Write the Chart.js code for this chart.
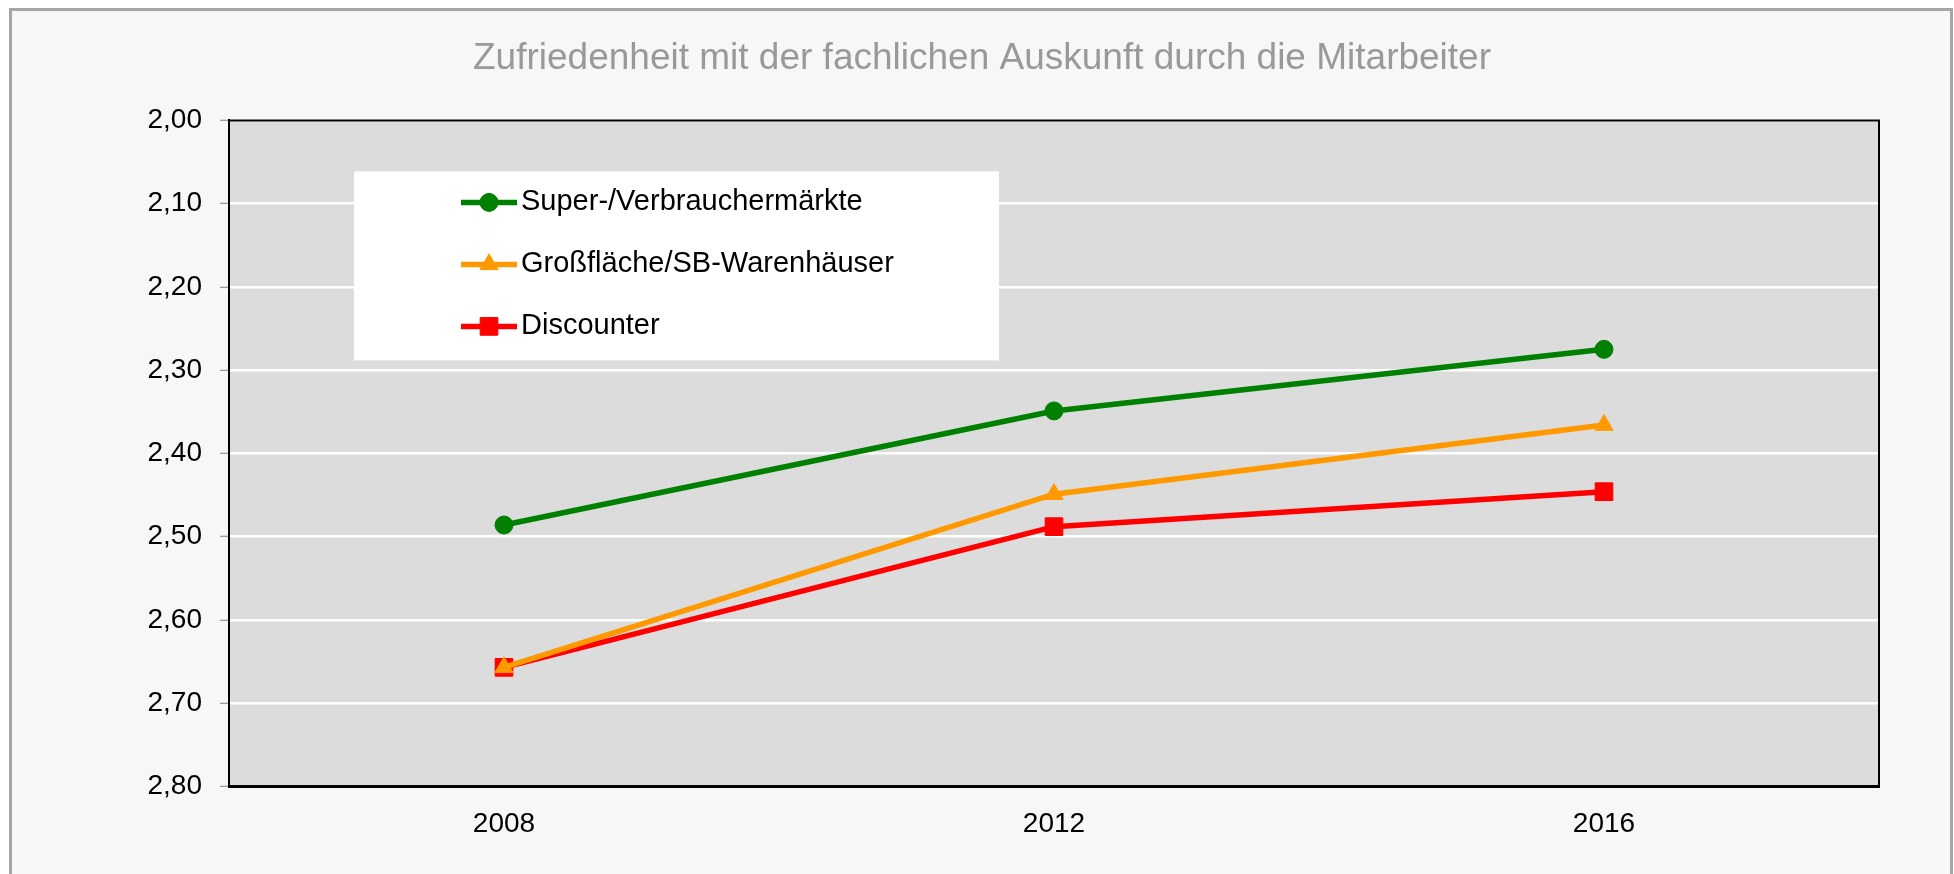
<!DOCTYPE html>
<html lang="de">
<head>
<meta charset="utf-8">
<title>Zufriedenheit mit der fachlichen Auskunft</title>
<script src="https://cdn.jsdelivr.net/npm/chart.js"></script>
<style>
    html, body { margin: 0; padding: 0; background: #ffffff; }
    #wrap { width: 1954px; height: 874px; }
</style>
</head>
<body>
<div id="wrap"><canvas id="chart" width="1954" height="874"></canvas></div>
<script>
// Data
const years = ['2008', '2012', '2016'];
const superMaerkte = [2.486, 2.349, 2.275];
const grossflaeche = [2.657, 2.449, 2.366];
const discounter = [2.657, 2.488, 2.446];

const seriesNames = ['Super-/Verbrauchermärkte', 'Großfläche/SB-Warenhäuser', 'Discounter'];
const yTicksMin = 2.0;
const yTicksMax = 2.8;

const FONT = "'Liberation Sans', Arial, sans-serif";

// frame + grey plot background + top/right border
const backgroundPlugin = {
    id: 'bgFrame',
    beforeDraw(chart) {
        const { ctx, chartArea: a } = chart;
        ctx.save();
        ctx.fillStyle = '#ffffff';
        ctx.fillRect(0, 0, chart.width, chart.height);
        ctx.fillStyle = '#f7f7f7';
        ctx.fillRect(10, 9, 1942, chart.height);
        ctx.strokeStyle = '#a6a6a6';
        ctx.lineWidth = 3;
        ctx.strokeRect(10.5, 9.5, 1941, chart.height + 10);
        ctx.fillStyle = '#dcdcdc';
        ctx.fillRect(a.left, a.top, a.right - a.left, a.bottom - a.top);
        ctx.restore();
    },
    beforeDatasetsDraw(chart) {
        const { ctx, chartArea: a } = chart;
        ctx.save();
        ctx.strokeStyle = '#000000';
        ctx.lineWidth = 2;
        ctx.beginPath();
        ctx.moveTo(a.left, a.top);
        ctx.lineTo(a.right, a.top);
        ctx.lineTo(a.right, a.bottom);
        ctx.stroke();
        ctx.restore();
    }
};

// Excel-like legend box inside the plot
const boxLegendPlugin = {
    id: 'boxLegend',
    afterDatasetsDraw(chart) {
        const { ctx, chartArea: a } = chart;
        const x0 = a.left + 125, y0 = a.top + 51;
        ctx.save();
        ctx.fillStyle = '#ffffff';
        ctx.fillRect(x0, y0, 645, 189);
        chart.data.datasets.forEach((ds, i) => {
            const y = y0 + 31 + i * 62;
            ctx.strokeStyle = ds.borderColor;
            ctx.lineWidth = ds.borderWidth;
            ctx.beginPath();
            ctx.moveTo(x0 + 107, y);
            ctx.lineTo(x0 + 163, y);
            ctx.stroke();
            // marker
            ctx.fillStyle = ds.borderColor;
            ctx.lineWidth = 1;
            Chart.helpers.drawPoint(ctx, {
                pointStyle: ds.pointStyle,
                radius: ds.pointRadius,
                borderWidth: 1,
                rotation: 0
            }, x0 + 135, y);
            ctx.fillStyle = '#000000';
            ctx.font = '29px ' + FONT;
            ctx.textBaseline = 'middle';
            ctx.textAlign = 'left';
            ctx.fillText(ds.label, x0 + 167, y);
        });
        ctx.restore();
    }
};

const makeSet = (label, data, color, style, radius) => ({
    label,
    data,
    borderColor: color,
    backgroundColor: color,
    pointBackgroundColor: color,
    pointBorderColor: color,
    pointBorderWidth: 1,
    pointStyle: style,
    pointRadius: radius,
    borderWidth: 5.5,
    tension: 0
});

new Chart(document.getElementById('chart'), {
    type: 'line',
    data: {
        labels: years,
        datasets: [
            makeSet(seriesNames[0], superMaerkte, '#008000', 'circle', 9),
            makeSet(seriesNames[1], grossflaeche, '#ff9900', 'triangle', 10.5),
            makeSet(seriesNames[2], discounter, '#ff0000', 'rect', 12.5)
        ]
    },
    options: {
        responsive: false,
        animation: false,
        events: [],
        layout: { padding: { top: 14, left: 85, right: 75, bottom: 12 } },
        plugins: {
            legend: { display: false },
            tooltip: { enabled: false },
            title: {
                display: true,
                text: 'Zufriedenheit mit der fachlichen Auskunft durch die Mitarbeiter',
                color: '#999999',
                font: { family: FONT, size: 37, weight: 'normal' },
                padding: { top: 23, bottom: 39 }
            }
        },
        scales: {
            x: {
                offset: true,
                grid: { display: false, drawTicks: false },
                border: { display: true, color: '#000000', width: 3 },
                ticks: {
                    color: '#000000',
                    padding: 21,
                    font: { family: FONT, size: 28 }
                }
            },
            y: {
                reverse: true,
                min: yTicksMin,
                max: yTicksMax,
                afterFit: (scale) => { scale.width = 144; },
                grid: {
                    color: '#ffffff',
                    lineWidth: 2.5,
                    tickColor: '#808080',
                    tickWidth: 1,
                    tickLength: 9
                },
                border: { display: true, color: '#000000', width: 2 },
                ticks: {
                    stepSize: 0.1,
                    color: '#000000',
                    padding: 18,
                    font: { family: FONT, size: 28 },
                    callback: (v) => Number(v).toFixed(2).replace('.', ',')
                }
            }
        }
    },
    plugins: [backgroundPlugin, boxLegendPlugin]
});
</script>
</body>
</html>
